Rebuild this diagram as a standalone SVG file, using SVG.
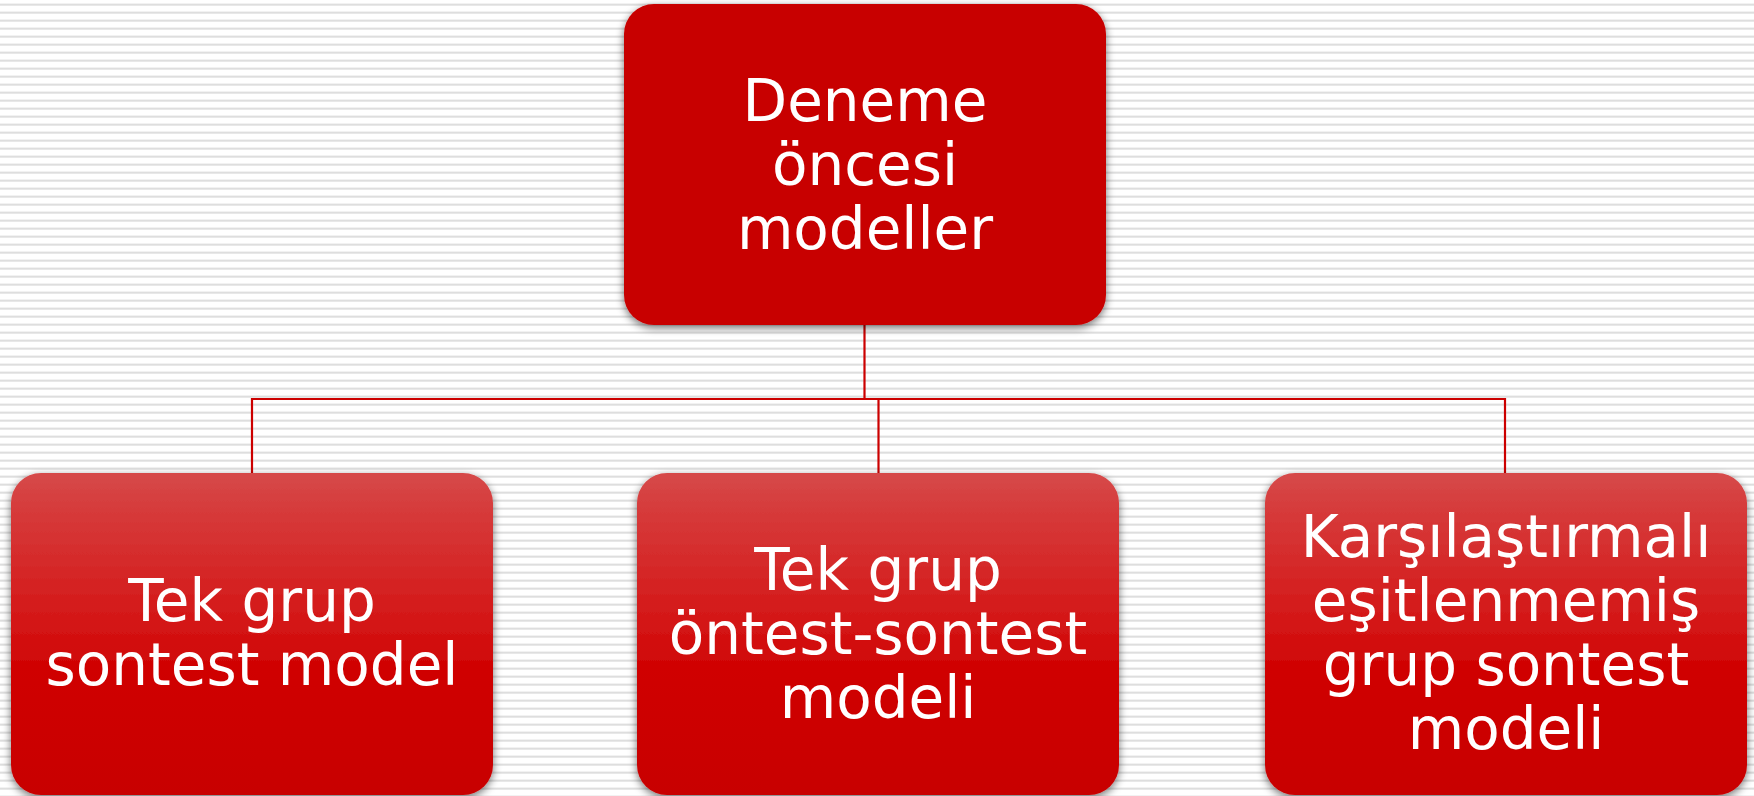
<svg xmlns="http://www.w3.org/2000/svg" width="1754" height="796" viewBox="0 0 1754 796">
<defs>
<pattern id="stripes" x="0" y="0" width="8" height="8" patternUnits="userSpaceOnUse">
<rect width="8" height="8" fill="#ffffff"/>
<rect y="3" width="8" height="1" fill="#f2f2f2"/>
<rect y="4" width="8" height="1" fill="#dedede"/>
<rect y="5" width="8" height="1" fill="#e8e8e8"/>
</pattern>
<linearGradient id="gBottom" x1="0" y1="0" x2="0" y2="1">
<stop offset="0" stop-color="#d64a4a"/>
<stop offset="0.12" stop-color="#d63a3a"/>
<stop offset="0.45" stop-color="#d41818"/>
<stop offset="0.6" stop-color="#d00404"/>
<stop offset="1" stop-color="#c80000"/>
</linearGradient>
<filter id="shadow" x="-10%" y="-10%" width="120%" height="125%">
<feGaussianBlur in="SourceAlpha" stdDeviation="4"/>
<feOffset dx="0" dy="3" result="b"/>
<feComponentTransfer><feFuncA type="linear" slope="0.55"/></feComponentTransfer>
<feMerge><feMergeNode/><feMergeNode in="SourceGraphic"/></feMerge>
</filter>
<style>
.lbl{font-family:"DejaVu Sans","Verdana",sans-serif;font-size:58px;fill:#ffffff;text-anchor:middle}
.conn{fill:none;stroke:#cc0000;stroke-width:2.2}
</style>
</defs>
<rect width="1754" height="796" fill="url(#stripes)"/>
<g id="connectors">
<path class="conn" d="M864.5 325 V399 H252 V473"/>
<path class="conn" d="M864.5 399 H1505 V473"/>
<path class="conn" d="M878.5 399 V473"/>
</g>
<g id="node-top">
<rect x="624" y="4" width="482" height="321" rx="30" fill="#c80000" filter="url(#shadow)"/>
<text class="lbl" x="865" y="121">Deneme</text>
<text class="lbl" x="865" y="185">öncesi</text>
<text class="lbl" x="865" y="249">modeller</text>
</g>
<g id="node-left">
<rect x="11" y="473" width="482" height="322" rx="30" fill="url(#gBottom)" filter="url(#shadow)"/>
<text class="lbl" x="252" y="621">Tek grup</text>
<text class="lbl" x="252" y="685">sontest model</text>
</g>
<g id="node-middle">
<rect x="637" y="473" width="482" height="322" rx="30" fill="url(#gBottom)" filter="url(#shadow)"/>
<text class="lbl" x="878" y="590">Tek grup</text>
<text class="lbl" x="878" y="654">öntest-sontest</text>
<text class="lbl" x="878" y="718">modeli</text>
</g>
<g id="node-right">
<rect x="1265" y="473" width="482" height="322" rx="30" fill="url(#gBottom)" filter="url(#shadow)"/>
<text class="lbl" x="1506" y="557">Karşılaştırmalı</text>
<text class="lbl" x="1506" y="621">eşitlenmemiş</text>
<text class="lbl" x="1506" y="685">grup sontest</text>
<text class="lbl" x="1506" y="749">modeli</text>
</g>
</svg>
